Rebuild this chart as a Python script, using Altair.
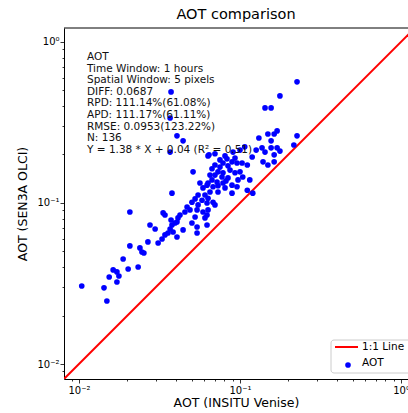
import altair as alt
import pandas as pd

# AOT match-ups
x_insitu = [
    0.0373, 0.226, 0.177, 0.143, 0.156, 0.0368, 0.0406, 0.0443, 0.0368, 0.226, 0.0511,
    0.131, 0.149, 0.163, 0.170, 0.137, 0.156, 0.156, 0.170, 0.216, 0.126, 0.143, 0.163,
    0.177, 0.139, 0.149, 0.163, 0.120, 0.115, 0.111, 0.0892, 0.119,
    0.0633, 0.0699, 0.0807, 0.0905, 0.100, 0.107, 0.0830, 0.0892, 0.0958, 0.0784, 0.0699,
    0.0751, 0.103, 0.111, 0.0670, 0.0730, 0.0784, 0.0867, 0.0699, 0.0773, 0.0931, 0.100,
    0.104, 0.0842, 0.0670, 0.0720, 0.0784, 0.0633, 0.0680, 0.0892, 0.0958, 0.0807,
    0.0589, 0.0624, 0.0651, 0.0730, 0.0606, 0.0549, 0.0526, 0.0581, 0.0633, 0.0680, 0.0624,
    0.0549, 0.0699, 0.0503, 0.0469, 0.0489, 0.0541, 0.0589, 0.0633, 0.0624, 0.0606, 0.0624,
    0.0541,
    0.0378, 0.0207, 0.0333, 0.0342, 0.0424, 0.0412, 0.0526, 0.0406, 0.0395, 0.0378, 0.0503,
    0.0276, 0.0297, 0.0368, 0.0384, 0.0357, 0.0342, 0.0443, 0.0541, 0.0406, 0.0328, 0.0310,
    0.0268, 0.0207, 0.0239, 0.0246, 0.0253, 0.0188, 0.0233, 0.0202, 0.0163, 0.0172, 0.0177,
    0.0154, 0.0172, 0.0104, 0.0143, 0.0149,
    0.0642, 0.0751, 0.0931, 0.0842, 0.0651, 0.0818, 0.0730, 0.0972, 0.0564, 0.0455, 0.0373,
]
y_olci = [
    0.489, 0.565, 0.462, 0.389, 0.389, 0.337, 0.261, 0.243, 0.207, 0.261, 0.156,
    0.253, 0.268, 0.268, 0.280, 0.220, 0.220, 0.243, 0.220, 0.229, 0.213, 0.207, 0.199,
    0.210, 0.180, 0.172, 0.180, 0.115, 0.139, 0.120, 0.115, 0.193,
    0.196, 0.202, 0.196, 0.207, 0.213, 0.223, 0.188, 0.180, 0.177, 0.177, 0.172,
    0.167, 0.177, 0.172, 0.163, 0.156, 0.154, 0.160, 0.149, 0.145, 0.154, 0.156,
    0.145, 0.143, 0.139, 0.135, 0.133, 0.133, 0.126, 0.129, 0.126, 0.124,
    0.124, 0.129, 0.117, 0.117, 0.112, 0.112, 0.106, 0.104, 0.107, 0.101, 0.100,
    0.0972, 0.0972, 0.101, 0.0944, 0.0905, 0.0905, 0.0879, 0.0905, 0.0842, 0.0807, 0.0730,
    0.0709,
    0.115, 0.0879, 0.0867, 0.0842, 0.0842, 0.0807, 0.0818, 0.0762, 0.0751, 0.0730, 0.0751,
    0.0730, 0.0689, 0.0689, 0.0660, 0.0651, 0.0633, 0.0680, 0.0651, 0.0615, 0.0597, 0.0564,
    0.0573, 0.0541, 0.0526, 0.0496, 0.0489, 0.0449, 0.0400, 0.0389, 0.0384, 0.0373, 0.0352,
    0.0347, 0.0323, 0.0305, 0.0297, 0.0246,
    0.199, 0.185, 0.190, 0.170, 0.149, 0.137, 0.128, 0.139, 0.133, 0.0879, 0.0784,
]
assert len(x_insitu) == len(y_olci) == 136

one_to_one = [0.00807, 1.22]
x_domain = [0.00807, 1.105]
y_domain = [0.00807, 1.22]

tick_values = [0.009, 0.01, 0.02, 0.03, 0.04, 0.05, 0.06, 0.07, 0.08, 0.09,
               0.1, 0.2, 0.3, 0.4, 0.5, 0.6, 0.7, 0.8, 0.9, 1]
major_ticks = [0.01, 0.1, 1]
major_labels = ["10⁻²", "10⁻¹", "10⁰"]

annotation_lines = [
    "AOT",
    "Time Window: 1 hours",
    "Spatial Window: 5 pixels",
    "DIFF: 0.0687",
    "RPD: 111.14%(61.08%)",
    "APD: 111.17%(61.11%)",
    "RMSE: 0.0953(123.22%)",
    "N: 136",
    "Y = 1.38 * X + 0.04 (R² = 0.51)",
]
legend_labels = ["1:1 Line", "AOT"]

W, H = 344, 351
FONT = "DejaVu Sans"
PT = 32

label_expr = " : ".join(
    f"datum.value == {v} ? '{t}'" for v, t in zip(major_ticks, major_labels)
) + " : ''"
major_test = "indexof([0.01, 0.1, 1], datum.value) >= 0"
tick_size = {"condition": {"test": major_test, "value": 4}, "value": 2}

x_axis = alt.Axis(values=tick_values, labelExpr=label_expr, tickSize=tick_size,
                  labelFlush=False, labelPadding=2, titlePadding=1, grid=False,
                  title="AOT (INSITU Venise)")
y_axis = alt.Axis(values=tick_values, labelExpr=label_expr, tickSize=tick_size,
                  labelFlush=False, labelPadding=1, titlePadding=7, grid=False,
                  title="AOT (SEN3A OLCI)")

xs = alt.Scale(type="log", domain=x_domain)
ys = alt.Scale(type="log", domain=y_domain)

df = pd.DataFrame({"x": x_insitu, "y": y_olci})
line_df = pd.DataFrame({"v": one_to_one})
one = pd.DataFrame({"a": [0]})

line = alt.Chart(line_df).mark_line(color="#ff0000", strokeWidth=2, clip=True).encode(
    x=alt.X("v:Q", scale=xs, axis=x_axis),
    y=alt.Y("v:Q", scale=ys, axis=y_axis),
)
points = alt.Chart(df).mark_circle(size=PT, color="#0000ff", opacity=1).encode(
    x=alt.X("x:Q", scale=xs, axis=x_axis),
    y=alt.Y("y:Q", scale=ys, axis=y_axis),
)

top_spine = alt.Chart(one).mark_rule(color="black", strokeWidth=1).encode(
    x=alt.value(0), x2=alt.value(W), y=alt.value(0)
)

annotation = alt.Chart(one).mark_text(
    align="left", baseline="alphabetic", font=FONT, fontSize=10.5,
    lineHeight=11.6, lineBreak="\n", color="#111111"
).encode(x=alt.value(23), y=alt.value(32), text=alt.value("\n".join(annotation_lines)))

legend_box = alt.Chart(one).mark_rect(
    fill="white", fillOpacity=0.8, stroke="#cccccc", strokeWidth=1, cornerRadius=3
).encode(x=alt.value(267), x2=alt.value(352), y=alt.value(312), y2=alt.value(345))
legend_line = alt.Chart(one).mark_rule(color="#ff0000", strokeWidth=2).encode(
    x=alt.value(271), x2=alt.value(294), y=alt.value(319)
)
legend_pt = alt.Chart(one).mark_circle(size=PT, color="#0000ff", opacity=1).encode(
    x=alt.value(284), y=alt.value(337)
)
legend_t1 = alt.Chart(one).mark_text(
    align="left", baseline="middle", font=FONT, fontSize=10.5, color="black"
).encode(x=alt.value(298), y=alt.value(319), text=alt.value(legend_labels[0]))
legend_t2 = alt.Chart(one).mark_text(
    align="left", baseline="middle", font=FONT, fontSize=10.5, color="black"
).encode(x=alt.value(298), y=alt.value(335), text=alt.value(legend_labels[1]))

chart = alt.layer(
    line, points, top_spine, annotation,
    legend_box, legend_line, legend_pt, legend_t1, legend_t2
).properties(
    width=W, height=H,
    title=alt.TitleParams("AOT comparison", font=FONT, fontSize=14.5,
                          fontWeight="normal", color="black", offset=5),
    autosize=alt.AutoSizeParams(type="none"),
    padding={"left": 64, "top": 28, "right": 0, "bottom": 34},
    background="white",
).configure_view(strokeWidth=0).configure_axis(
    domainColor="black", domainWidth=1, tickColor="black", tickWidth=0.8,
    labelFont=FONT, labelFontSize=10, labelColor="black",
    titleFont=FONT, titleFontSize=12.5, titleFontWeight="normal", titleColor="black",
)

chart.save("out.html", embed_options={"renderer": "svg", "actions": False})
